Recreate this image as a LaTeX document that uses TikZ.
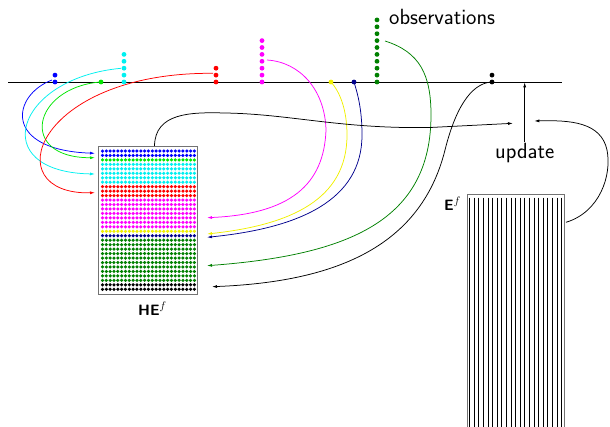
\documentclass[tikz,border=0pt]{standalone}
\usepackage{fontspec}
\usetikzlibrary{arrows.meta}
\definecolor{cLime}{RGB}{0,230,0}
\definecolor{cDkGreen}{RGB}{0,128,0}
\definecolor{cNavy}{RGB}{0,0,140}
\definecolor{cBlue}{RGB}{0,0,255}
\definecolor{cCyan}{RGB}{0,240,240}
\definecolor{cRed}{RGB}{255,0,0}
\definecolor{cMag}{RGB}{255,0,255}
\definecolor{cYel}{RGB}{240,240,0}
\begin{document}
\begin{tikzpicture}[x=1pt,y=-1pt,
  curve/.style={line width=0.75pt,-{Latex[length=5pt,width=3pt]}},
  obsdot/.style={circle,fill,inner sep=0pt,minimum size=4.8pt},
  boxst/.style={draw=black!55,line width=1pt,inner sep=0pt,anchor=north west},
  bigtxt/.style={font=\fontsize{22}{26}\selectfont\sffamily,inner sep=0pt},
  lbltxt/.style={font=\fontsize{15}{18}\selectfont\sffamily\bfseries,inner sep=0pt}]
\clip (0,0) rectangle (610,426);

% time axis
\coordinate (axL) at (8,82);
\coordinate (axR) at (562,82);
\draw[line width=0.8pt] (axL) -- (axR);

% HE^f box
\node[boxst,minimum width=99pt,minimum height=148.3pt] (HE) at (98.3,146) {};
\foreach \c [count=\i from 0] in {cBlue,cBlue,cLime,cCyan,cCyan,cCyan,cCyan,cCyan,cRed,cRed,cRed,cMag,cMag,cMag,cMag,cMag,cMag,cMag,cYel,cNavy,cDkGreen,cDkGreen,cDkGreen,cDkGreen,cDkGreen,cDkGreen,cDkGreen,cDkGreen,cDkGreen,cDkGreen,black,black}{
  \foreach \j in {0,...,24}{
    \fill[\c] (102.5+\j*3.83,151+\i*4.46) circle (1.75);
  }
}
\node[lbltxt,anchor=base west] (HElbl) at (138,315) {HE$^{f}$};

% E^f box
\node[boxst,minimum width=97.6pt,minimum height=240pt] (E) at (466.7,194.3) {};
\foreach \k in {0,...,20}{
  \draw[line width=0.8pt] (469.5+\k*4.6,197.5) -- (469.5+\k*4.6,432);
}
\node[lbltxt,anchor=base west] (Elbl) at (444,210) {E$^{f}$};

% labels
\node[bigtxt,anchor=base west] (obs) at (389,24) {observations};
\node[bigtxt,anchor=base west] (upd) at (495,158) {update};

% curve end points
\coordinate (sB) at (52,80);     \coordinate (tB) at (95,153.3);
\coordinate (sL) at (100,82);    \coordinate (tL) at (95,157.7);
\coordinate (sC) at (121,68.3);  \coordinate (tC) at (95,174);
\coordinate (sR) at (213,73.3);  \coordinate (tR) at (95,192.7);
\coordinate (sM) at (267,60);    \coordinate (tM) at (207,217.7);
\coordinate (sY) at (331,82);    \coordinate (tY) at (207,234);
\coordinate (sN) at (354,82);    \coordinate (tN) at (207,237.3);
\coordinate (sG) at (385,41);    \coordinate (tG) at (207,265.7);
\coordinate (sK) at (491,82);    \coordinate (tK) at (212,286.7);
\coordinate (heTop) at (154.5,146);  \coordinate (updL) at (513,123.3);
\coordinate (eSide) at (566,222.3);  \coordinate (updR) at (534.3,121);
\coordinate (updTop) at (524.7,141.5); \coordinate (axU) at (524.7,82.4);

% observation -> HE curves
\draw[curve,cBlue] (sB) .. controls (12,95) and (2,150) .. (tB);
\draw[curve,cLime] (sL) .. controls (32,88) and (18,158) .. (tL);
\draw[curve,cCyan] (sC) .. controls (15,78) and (-14,172) .. (tC);
\draw[curve,cRed] (sR) .. controls (35,72) and (-5,195) .. (tR);
\draw[curve,cMag] (sM) .. controls (300,62) and (325,90) .. (326,130)
  .. controls (324,185) and (290,214) .. (tM);
\draw[curve,cYel] (sY) .. controls (340,92) and (347,110) .. (347,135)
  .. controls (347,200) and (290,225) .. (tY);
\draw[curve,cNavy] (sN) .. controls (358,95) and (362,110) .. (362,135)
  .. controls (362,200) and (300,228) .. (tN);
\draw[curve,cDkGreen] (sG) .. controls (420,52) and (431,75) .. (431,115)
  .. controls (431,220) and (350,255) .. (tG);
\draw[curve,black] (sK) .. controls (470,84) and (455,110) .. (445,150)
  .. controls (420,250) and (330,282) .. (tK);

% HE -> update, E -> update
\draw[curve,black] (heTop) .. controls (155,113) and (190,112) .. (225,113)
  .. controls (290,114) and (340,129) .. (430,127.5) -- (updL);
\draw[curve,black] (eSide) .. controls (600,212) and (612,175) .. (607,150)
  .. controls (601,122) and (570,120) .. (updR);
\draw[line width=0.6pt,-{Latex[length=5pt,width=3pt]}] (updTop) -- (axU);

% observation dots
\foreach \x/\n/\c in {55/2/cBlue,101/1/cLime,124/5/cCyan,216/3/cRed,262/7/cMag,331/1/cYel,354/1/cNavy,377/10/cDkGreen,492/2/black}{
  \foreach \m in {1,...,\n}{
    \node[obsdot,fill=\c] (o\x-\m) at (\x,82-\m*6.9+6.9) {};
  }
}
\end{tikzpicture}
\end{document}
